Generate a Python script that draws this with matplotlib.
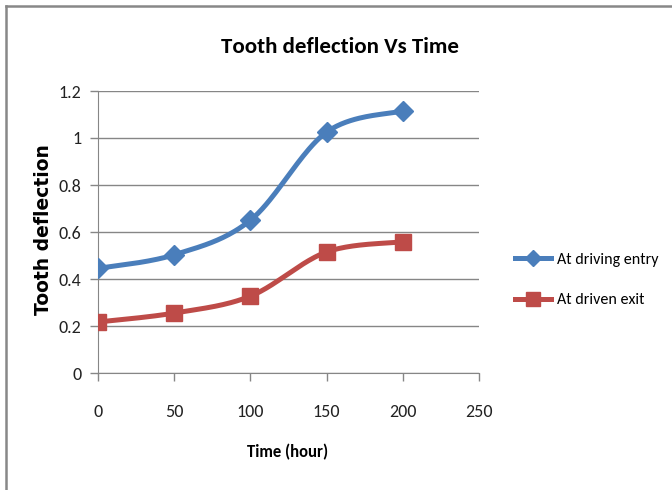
import numpy as np
import matplotlib
matplotlib.use("Agg")
import matplotlib.pyplot as plt
from matplotlib.lines import Line2D

time_hours = [0, 50, 100, 150, 200]
driving_entry = [0.445, 0.503, 0.650, 1.025, 1.115]
driven_exit = [0.217, 0.255, 0.327, 0.515, 0.558]
series_names = ["At driving entry", "At driven exit"]
x_ticks = [0, 50, 100, 150, 200, 250]
y_ticks = [0, 0.2, 0.4, 0.6, 0.8, 1.0, 1.2]
y_tick_labels = ["0", "0.2", "0.4", "0.6", "0.8", "1", "1.2"]

FONT = ["Carlito", "DejaVu Sans"]


def smooth(xs, ys, n=40):
    """Excel-like smoothed line: cubic Bezier segments through the points."""
    P = np.column_stack([np.asarray(xs, float), np.asarray(ys, float)])
    out = []
    m = len(P)
    for i in range(m - 1):
        p0 = P[i - 1] if i > 0 else P[i]
        p1 = P[i]
        p2 = P[i + 1]
        p3 = P[i + 2] if i + 2 < m else P[i + 1]
        c1 = p1 + (p2 - p0) / 6.0
        c2 = p2 - (p3 - p1) / 6.0
        t = np.linspace(0, 1, n)[:, None]
        seg = ((1 - t) ** 3) * p1 + 3 * ((1 - t) ** 2) * t * c1 + 3 * (1 - t) * t ** 2 * c2 + t ** 3 * p2
        if i > 0:
            seg = seg[1:]
        out.append(seg)
    s = np.vstack(out)
    return s[:, 0], s[:, 1]


fig = plt.figure(figsize=(6.72, 4.9), dpi=100)
ax = fig.add_axes([98 / 672, 1 - 373 / 490, (479 - 98) / 672, (373 - 91) / 490])

blue = "#4A7EBB"
red = "#BE4B48"
grid_c = "#868686"

bx, by = smooth(time_hours, driving_entry)
rx, ry = smooth(time_hours, driven_exit)
ax.plot(bx, by, color=blue, lw=3.6, solid_capstyle="round", zorder=3)
ax.plot(time_hours, driving_entry, linestyle="none", marker="D", ms=10, color=blue, zorder=4)
ax.plot(rx, ry, color=red, lw=3.6, solid_capstyle="round", zorder=3)
ax.plot(time_hours, driven_exit, linestyle="none", marker="s", ms=12, color=red, zorder=4)

ax.set_xlim(0, 250)
ax.set_ylim(0, 1.2)
ax.set_xticks(x_ticks)
ax.set_yticks(y_ticks)
ax.set_yticklabels(y_tick_labels)
ax.yaxis.grid(True, color=grid_c, lw=1)
ax.set_axisbelow(True)
for s in ["top", "right"]:
    ax.spines[s].set_visible(False)
ax.spines["left"].set_color(grid_c)
ax.spines["bottom"].set_color(grid_c)
ax.tick_params(axis="both", colors=grid_c, length=6, width=1, direction="out")
ax.tick_params(axis="x", labelcolor="#222222", labelsize=13, pad=16)
ax.tick_params(axis="y", labelcolor="#222222", labelsize=13, pad=6)
for lab in ax.get_xticklabels() + ax.get_yticklabels():
    lab.set_family(FONT)

fig.text(340 / 672, 1 - 47 / 490, "Tooth deflection Vs Time", ha="center", va="center",
         fontsize=16.5, fontweight="bold", family=FONT)
fig.text(288 / 672, 1 - 452 / 490, "Time (hour)", ha="center", va="center",
         fontsize=12, fontweight="bold", family=FONT)
fig.text(44 / 672, 1 - 230 / 490, "Tooth deflection", ha="center", va="center",
         rotation=90, fontsize=13.5, fontweight="bold", family="DejaVu Sans")

handles = [
    Line2D([0], [0], color=blue, lw=3.6, marker="D", ms=8),
    Line2D([0], [0], color=red, lw=3.6, marker="s", ms=10),
]
leg = fig.legend(handles, series_names, loc="center left", bbox_to_anchor=(509 / 672, 1 - 280 / 490),
                 frameon=False, handlelength=2.2, handletextpad=0.4, labelspacing=1.65,
                 borderaxespad=0, borderpad=0.4,
                 prop={"family": FONT, "size": 11.5})

# figure border (top and left visible)
fig.add_artist(Line2D([6 / 672, 6 / 672], [0, 1 - 6 / 490], transform=fig.transFigure, color="#888888", lw=1.8))
fig.add_artist(Line2D([6 / 672, 1], [1 - 6 / 490, 1 - 6 / 490], transform=fig.transFigure, color="#888888", lw=1.8))

fig.savefig("out.png", dpi=100)
